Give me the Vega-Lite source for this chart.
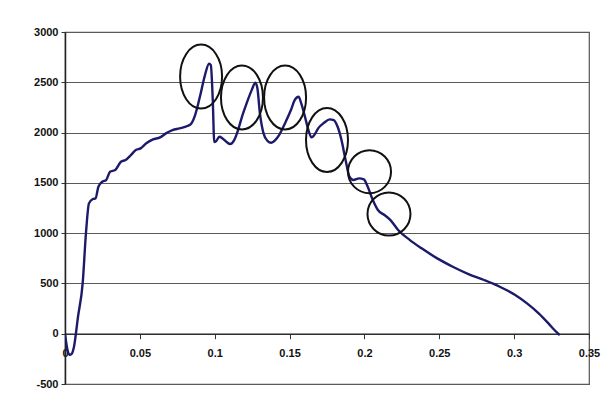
{
  "$schema": "https://vega.github.io/schema/vega-lite/v6.json",
  "autosize": {"type": "none"},
  "width": 524,
  "height": 352,
  "padding": {"left": 65, "top": 32, "right": 26, "bottom": 29},
  "background": "#ffffff",
  "config": {
    "view": {"stroke": "#555555", "strokeWidth": 1.2},
    "axis": {"labelFont": "Liberation Sans", "labelFontWeight": "bold", "labelFontSize": 11, "labelColor": "#111111", "domainColor": "#222222", "tickColor": "#333333", "gridColor": "#5a5a5a", "gridOpacity": 1, "gridWidth": 1, "title": null}
  },
  "datasets": {
    "curve": [
      {"x": 0, "y": 0}, {"x": 0.0015, "y": -150}, {"x": 0.003, "y": -210}, {"x": 0.0045, "y": -200},
      {"x": 0.006, "y": -130}, {"x": 0.0087, "y": 170}, {"x": 0.0118, "y": 500}, {"x": 0.014, "y": 1000},
      {"x": 0.016, "y": 1296}, {"x": 0.0186, "y": 1339}, {"x": 0.0204, "y": 1346}, {"x": 0.0223, "y": 1461},
      {"x": 0.0249, "y": 1511}, {"x": 0.0275, "y": 1528}, {"x": 0.0301, "y": 1610}, {"x": 0.0335, "y": 1627},
      {"x": 0.0374, "y": 1710}, {"x": 0.0405, "y": 1727}, {"x": 0.044, "y": 1776}, {"x": 0.0473, "y": 1826},
      {"x": 0.0505, "y": 1843}, {"x": 0.0543, "y": 1893}, {"x": 0.0588, "y": 1932}, {"x": 0.0635, "y": 1952},
      {"x": 0.0674, "y": 1992}, {"x": 0.0718, "y": 2025}, {"x": 0.0765, "y": 2042}, {"x": 0.0817, "y": 2065},
      {"x": 0.0844, "y": 2091}, {"x": 0.0869, "y": 2174}, {"x": 0.0901, "y": 2356}, {"x": 0.0935, "y": 2572},
      {"x": 0.0962, "y": 2685}, {"x": 0.0974, "y": 2670}, {"x": 0.0987, "y": 2323}, {"x": 0.0997, "y": 1905},
      {"x": 0.101, "y": 1915}, {"x": 0.1031, "y": 1958}, {"x": 0.1052, "y": 1942}, {"x": 0.1078, "y": 1908},
      {"x": 0.1104, "y": 1886}, {"x": 0.113, "y": 1925}, {"x": 0.1156, "y": 2025}, {"x": 0.1182, "y": 2157},
      {"x": 0.1213, "y": 2290}, {"x": 0.1247, "y": 2422}, {"x": 0.1272, "y": 2495}, {"x": 0.1285, "y": 2440},
      {"x": 0.1302, "y": 2191}, {"x": 0.1326, "y": 1992}, {"x": 0.1352, "y": 1918}, {"x": 0.1378, "y": 1899},
      {"x": 0.1404, "y": 1925}, {"x": 0.143, "y": 1975}, {"x": 0.1469, "y": 2091}, {"x": 0.1509, "y": 2224},
      {"x": 0.1534, "y": 2323}, {"x": 0.156, "y": 2356}, {"x": 0.1578, "y": 2290}, {"x": 0.16, "y": 2174},
      {"x": 0.1626, "y": 2025}, {"x": 0.1646, "y": 1952}, {"x": 0.1665, "y": 1975}, {"x": 0.1691, "y": 2042},
      {"x": 0.173, "y": 2097}, {"x": 0.1769, "y": 2131}, {"x": 0.1795, "y": 2124}, {"x": 0.1821, "y": 2058},
      {"x": 0.1847, "y": 1925}, {"x": 0.1874, "y": 1727}, {"x": 0.19, "y": 1561}, {"x": 0.1926, "y": 1528},
      {"x": 0.1965, "y": 1545}, {"x": 0.1996, "y": 1535}, {"x": 0.2022, "y": 1461}, {"x": 0.2056, "y": 1329},
      {"x": 0.209, "y": 1230}, {"x": 0.2134, "y": 1180}, {"x": 0.2174, "y": 1130}, {"x": 0.2225, "y": 1031},
      {"x": 0.2304, "y": 931}, {"x": 0.2382, "y": 849}, {"x": 0.2486, "y": 749}, {"x": 0.259, "y": 666},
      {"x": 0.2695, "y": 593}, {"x": 0.2799, "y": 534}, {"x": 0.2904, "y": 467}, {"x": 0.3007, "y": 385},
      {"x": 0.3086, "y": 302}, {"x": 0.3164, "y": 203}, {"x": 0.3229, "y": 103}, {"x": 0.3269, "y": 37},
      {"x": 0.3305, "y": -15}
    ],
    "ellipses": [
      {"x": 0.0909, "y": 2557}, {"x": 0.1182, "y": 2349}, {"x": 0.147, "y": 2349}, {"x": 0.175, "y": 1926}
    ],
    "circles": [
      {"x": 0.2034, "y": 1611}, {"x": 0.2164, "y": 1190}
    ]
  },
  "layer": [
    {
      "data": {"name": "curve"},
      "mark": {"type": "line", "color": "#1c1a6b", "strokeWidth": 2.4, "interpolate": "monotone", "clip": true},
      "encoding": {
        "x": {"field": "x", "type": "quantitative", "scale": {"domain": [0, 0.35], "nice": false, "zero": false},
          "axis": {"orient": "bottom", "offset": -50.3, "values": [0, 0.05, 0.1, 0.15, 0.2, 0.25, 0.3, 0.35], "format": ".2~f", "grid": false, "tickSize": 5, "labelPadding": 9, "domainWidth": 1.2, "labelFlush": false, "labelOverlap": false}},
        "y": {"field": "y", "type": "quantitative", "scale": {"domain": [-500, 3000], "nice": false, "zero": false},
          "axis": {"values": [-500, 0, 500, 1000, 1500, 2000, 2500, 3000], "labelExpr": "'' + datum.value", "grid": true, "tickSize": 4, "labelPadding": 3, "domainWidth": 1.5, "labelFlush": false, "labelOverlap": false}}
      }
    },
    {
      "data": {"name": "ellipses"},
      "mark": {"type": "point", "filled": false, "stroke": "#111111", "strokeWidth": 2, "opacity": 1, "size": 4096,
        "shape": "M 0.656 0 C 0.656 0.5523 0.3623 1 0 1 C -0.3623 1 -0.656 0.5523 -0.656 0 C -0.656 -0.5523 -0.3623 -1 0 -1 C 0.3623 -1 0.656 -0.5523 0.656 0 Z"},
      "encoding": {
        "x": {"field": "x", "type": "quantitative"},
        "y": {"field": "y", "type": "quantitative"}
      }
    },
    {
      "data": {"name": "circles"},
      "mark": {"type": "point", "filled": false, "stroke": "#111111", "strokeWidth": 2, "opacity": 1, "size": 1849, "shape": "circle"},
      "encoding": {
        "x": {"field": "x", "type": "quantitative"},
        "y": {"field": "y", "type": "quantitative"}
      }
    }
  ]
}
